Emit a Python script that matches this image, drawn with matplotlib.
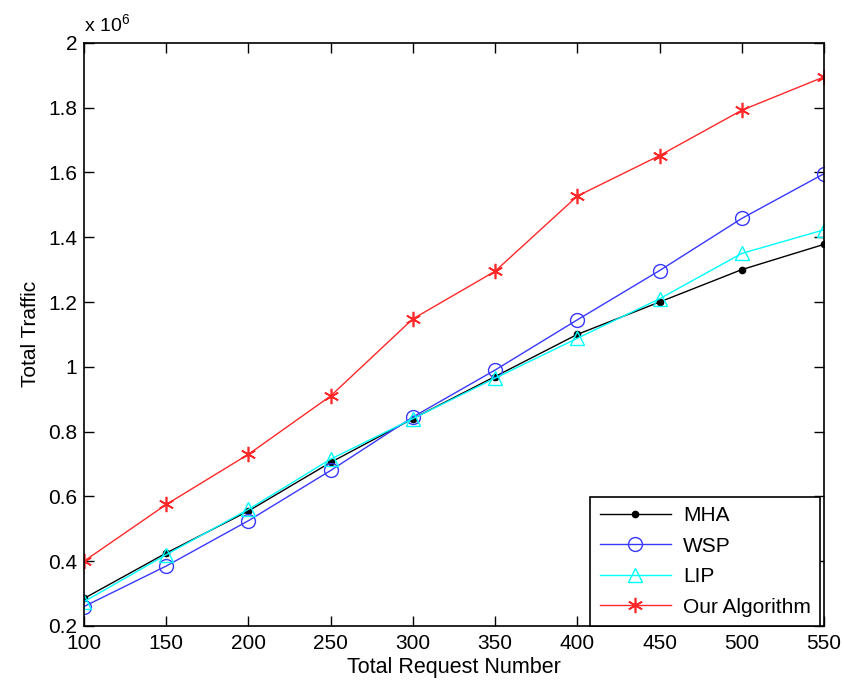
import matplotlib.pyplot as plt
from matplotlib.ticker import FuncFormatter

plt.rcParams['font.family'] = ['Liberation Sans', 'DejaVu Sans']
plt.rcParams['mathtext.fontset'] = 'custom'
plt.rcParams['mathtext.rm'] = 'Liberation Sans'

# request counts and total traffic (x 10^6) per method
requests = [100, 150, 200, 250, 300, 350, 400, 450, 500, 550]
mha = [0.285, 0.425, 0.555, 0.705, 0.84, 0.97, 1.10, 1.20, 1.30, 1.378]
wsp = [0.26, 0.385, 0.525, 0.68, 0.845, 0.99, 1.145, 1.297, 1.458, 1.596]
lip = [0.275, 0.42, 0.56, 0.715, 0.84, 0.965, 1.088, 1.21, 1.35, 1.423]
ours = [0.40, 0.575, 0.73, 0.91, 1.148, 1.295, 1.527, 1.652, 1.792, 1.895]

x_ticks = [100, 150, 200, 250, 300, 350, 400, 450, 500, 550]
y_ticks = [0.2, 0.4, 0.6, 0.8, 1.0, 1.2, 1.4, 1.6, 1.8, 2.0]

fig = plt.figure(figsize=(8.45, 6.86), dpi=100)
ax = fig.add_axes([0.0994, 0.0875, 0.8757, 0.85])

asterisk = (6, 2, 0)
ax.plot(requests, mha, color='black', lw=1, marker='.', ms=9, label='MHA')
ax.plot(requests, wsp, color='#3838ff', lw=1, marker='o', ms=10,
        mfc='none', mew=1, label='WSP')
ax.plot(requests, lip, color='cyan', lw=1, marker='^', ms=10,
        mfc='none', mew=1, label='LIP')
ax.plot(requests, ours, color='#ff2828', lw=1, marker=asterisk, ms=11,
        mew=1.2, label='Our Algorithm')

ax.set_xlim(100, 550)
ax.set_ylim(0.2, 2.0)
ax.set_xticks(x_ticks)
ax.set_yticks(y_ticks)
ax.yaxis.set_major_formatter(FuncFormatter(lambda v, p: '%g' % v))
ax.tick_params(direction='in', length=7, width=1, top=True, right=True,
               labelsize=15)
ax.tick_params(axis='x', pad=6)
ax.tick_params(axis='y', pad=5)
for s in ax.spines.values():
    s.set_linewidth(1.2)

ax.set_xlabel('Total Request Number', fontsize=15.5, labelpad=3)
ax.set_ylabel('Total Traffic', fontsize=15, labelpad=6)
ax.text(0.0, 1.012, 'x 10$^{6}$', transform=ax.transAxes, fontsize=14,
        ha='left', va='bottom')

leg = ax.legend(loc='lower right', fontsize=15, numpoints=1, handlelength=3.4,
                fancybox=False, edgecolor='black', framealpha=1,
                borderaxespad=0.0, borderpad=0.45, labelspacing=0.55,
                handletextpad=0.6, bbox_to_anchor=(0.995, 0.0))
leg.get_frame().set_linewidth(1.2)

fig.savefig('out.png', dpi=100)
